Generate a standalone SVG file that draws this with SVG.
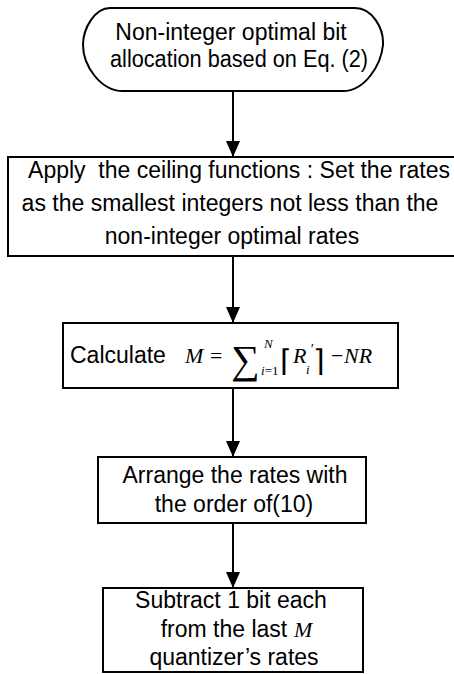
<svg xmlns="http://www.w3.org/2000/svg" width="454" height="674" viewBox="0 0 454 674">
<defs>
<marker id="ah" markerWidth="16" markerHeight="14" refX="16" refY="7" orient="auto" markerUnits="userSpaceOnUse">
<path d="M0,0 L16,7 L0,14 Z" fill="#000"/>
</marker>
</defs>
<style>
.box{fill:#fff;stroke:#000;stroke-width:2}
.t{font-family:"Liberation Sans",Arial,sans-serif;font-size:23px;fill:#000;text-anchor:middle}
.m{font-family:"Liberation Serif","Times New Roman",serif;fill:#000}
.c{stroke:#000;stroke-width:2;fill:none;marker-end:url(#ah)}
</style>
<rect width="454" height="674" fill="#fff"/>
<g id="connectors">
<line class="c" x1="233" y1="91" x2="233" y2="157"/>
<line class="c" x1="233" y1="256" x2="233" y2="323"/>
<line class="c" x1="233" y1="388" x2="233" y2="457"/>
<line class="c" x1="233" y1="523" x2="233" y2="588"/>
</g>
<g id="start">
<path class="box" d="M110 8 L355 8 C372 8 384 28 383 45 C381 65 365 91 343 91 L123 91 C100 91 83 65 83 45 C83 28 95 8 110 8 Z"/>
<text class="t" x="231" y="40">Non-integer optimal bit</text>
<text class="t" x="239" y="67" textLength="258" lengthAdjust="spacingAndGlyphs">allocation based on Eq. (2)</text>
</g>
<g id="ceiling">
<rect class="box" x="8" y="157" width="450" height="99"/>
<text class="t" x="239" y="178" xml:space="preserve">Apply  the ceiling functions : Set the rates</text>
<text class="t" x="230" y="211">as the smallest integers not less than the</text>
<text class="t" x="232" y="244">non-integer optimal rates</text>
</g>
<g id="calculate">
<rect class="box" x="63" y="323" width="335" height="65"/>
<text class="t" x="70" y="363" style="text-anchor:start">Calculate</text>
<text class="m" x="185" y="363" font-size="22" font-style="italic">M</text>
<text class="m" x="210" y="363" font-size="22">=</text>
<text class="m" x="231" y="373" font-size="40">∑</text>
<text class="m" x="264" y="348" font-size="13" font-style="italic">N</text>
<text class="m" x="261" y="375" font-size="13"><tspan font-style="italic">i</tspan>=1</text>
<text class="m" x="280" y="371" font-size="30" font-family="DejaVu Serif">⌈</text>
<text class="m" x="293" y="363" font-size="22" font-style="italic">R</text>
<text class="m" x="310" y="354" font-size="14" font-style="italic">′</text>
<text class="m" x="306" y="374" font-size="13" font-style="italic">i</text>
<text class="m" x="313" y="371" font-size="30" font-family="DejaVu Serif">⌉</text>
<text class="m" x="331" y="363" font-size="22">−</text>
<text class="m" x="344" y="363" font-size="22" font-style="italic">NR</text>
</g>
<g id="arrange">
<rect class="box" x="98" y="457" width="268" height="66"/>
<text class="t" x="235" y="483">Arrange the rates with</text>
<text class="t" x="234" y="512" xml:space="preserve">the order of(10)</text>
</g>
<g id="subtract">
<rect class="box" x="103" y="588" width="260" height="84"/>
<text class="t" x="231" y="608">Subtract 1 bit each</text>
<text class="t" x="224" y="637">from the last</text>
<text class="m" x="294" y="637" font-size="22" font-style="italic">M</text>
<text class="t" x="234" y="665">quantizer’s rates</text>
</g>
</svg>
